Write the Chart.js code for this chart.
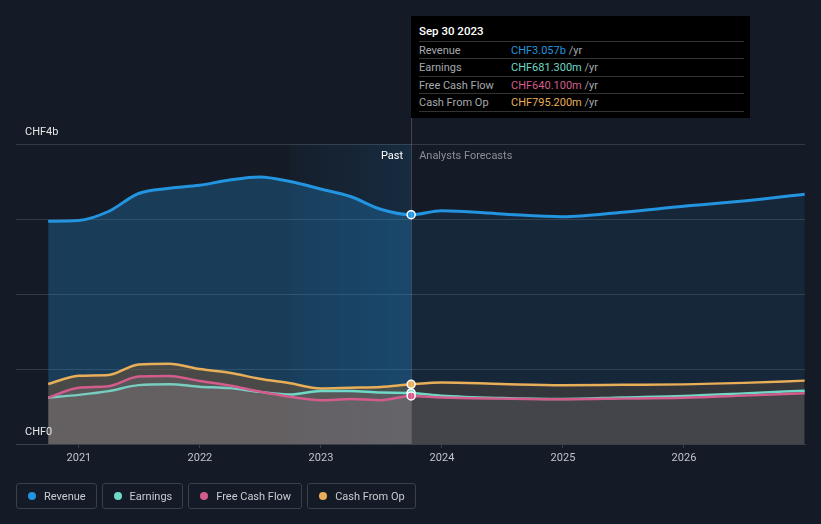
<!DOCTYPE html>
<html>
<head>
<meta charset="utf-8">
<script src="https://cdn.jsdelivr.net/npm/chart.js@4"></script>
<style>
  body { margin: 0; background: #151b26; font-family: Roboto, "Open Sans", sans-serif; }
  #wrap { position: relative; width: 821px; height: 524px; }
  #chart { position: absolute; left: 0; top: 0; }
  #tip { position: absolute; left: 411px; top: 16px; width: 339px; height: 102px; background: #000; }
  #tip .title { position: absolute; left: 8px; top: 8px; color: #fff; font-size: 11.5px; font-weight: 500; }
  #tip .row { position: absolute; left: 8px; width: 325px; height: 17px; border-top: 1px solid #333; font-size: 11px; line-height: 17px; color: #a6a9ae; }
  #tip .row span.v { position: absolute; left: 92px; }
  #tip .row span.u { color: #a6a9ae; }
  #legend { position: absolute; left: 16px; top: 483px; display: flex; gap: 5px; }
  #legend div { height: 24px; border: 1px solid #3a404a; border-radius: 3px; padding: 0 10px 0 11px; display: flex; align-items: center; color: #c8ccd2; font-size: 11px; }
  #legend i { width: 8px; height: 8px; border-radius: 50%; margin-right: 8px; display: inline-block; }
</style>
</head>
<body>
<div id="wrap">
  <canvas id="chart" width="821" height="524"></canvas>
  <div id="tip"></div>
  <div id="legend"></div>
</div>
<script>
const dates = ['2020-09-30', '2020-12-31', '2021-03-31', '2021-06-30', '2021-09-30', '2021-12-31', '2022-03-31', '2022-06-30', '2022-09-30', '2022-12-31', '2023-03-31', '2023-06-30', '2023-09-30', '2023-12-31', '2024-06-30', '2024-12-31', '2025-06-30', '2025-12-31', '2026-06-30', '2026-12-31'];
// values in CHF billions
const revenue = [2.97, 2.98, 3.10, 3.34, 3.41, 3.45, 3.52, 3.56, 3.50, 3.40, 3.30, 3.13, 3.057, 3.11, 3.067, 3.03, 3.09, 3.17, 3.24, 3.33];
const earnings = [0.617, 0.655, 0.705, 0.785, 0.796, 0.764, 0.745, 0.695, 0.66, 0.707, 0.707, 0.686, 0.6813, 0.644, 0.613, 0.60, 0.62, 0.64, 0.675, 0.711];
const freeCashFlow = [0.617, 0.75, 0.77, 0.90, 0.907, 0.84, 0.78, 0.70, 0.63, 0.583, 0.60, 0.585, 0.6401, 0.62, 0.605, 0.596, 0.605, 0.617, 0.645, 0.676];
const cashFromOp = [0.80, 0.91, 0.92, 1.06, 1.07, 1.00, 0.95, 0.87, 0.81, 0.74, 0.75, 0.76, 0.7952, 0.82, 0.80, 0.785, 0.79, 0.795, 0.815, 0.845];
const pastEnd = 12;
const xTicks = [2021, 2022, 2023, 2024, 2025, 2026];
const yTickLabels = ['CHF0', '', '', '', 'CHF4b'];
const names = ['Revenue', 'Earnings', 'Free Cash Flow', 'Cash From Op'];
const colors = ['#2394df', '#6fd8c6', '#d45c8c', '#e8ae58'];

function toYear(d) {
  const t = Date.parse(d + 'T00:00:00Z');
  const y = new Date(t).getUTCFullYear();
  const s = Date.UTC(y, 0, 1), e = Date.UTC(y + 1, 0, 1);
  return y + (t - s) / (e - s);
}
const xs = dates.map(toYear);
const pts = arr => arr.map((v, i) => ({x: xs[i], y: v}));

function series(idx, values, order, pastFill, foreFill, width) {
  return {
    label: names[idx],
    data: pts(values),
    order: order,
    borderColor: colors[idx],
    borderWidth: width,
    cubicInterpolationMode: 'monotone',
    fill: 'origin',
    backgroundColor: pastFill,
    segment: { backgroundColor: ctx => ctx.p0DataIndex >= pastEnd ? foreFill : pastFill },
    pointRadius: ctx => ctx.dataIndex === pastEnd ? 4 : 0,
    pointHoverRadius: 0,
    pointBackgroundColor: colors[idx],
    pointBorderColor: '#fff',
    pointBorderWidth: 1.5
  };
}

const pastX = xs[pastEnd];

const overlay = {
  id: 'overlay',
  beforeDatasetsDraw(chart) {
    const {ctx, chartArea: a, scales: {x}} = chart;
    const px = x.getPixelForValue(pastX);
    const bx = x.getPixelForValue(pastX - 1);
    const g = ctx.createLinearGradient(bx, 0, px, 0);
    g.addColorStop(0, 'rgba(35,148,223,0.03)');
    g.addColorStop(1, 'rgba(35,148,223,0.14)');
    ctx.save();
    ctx.fillStyle = g;
    ctx.fillRect(bx, a.top, px - bx, a.bottom - a.top);
    ctx.restore();
  },
  afterDatasetsDraw(chart) {
    const {ctx, chartArea: a, scales: {x, y}} = chart;
    const px = x.getPixelForValue(pastX);
    ctx.save();
    ctx.strokeStyle = 'rgba(255,255,255,0.18)';
    ctx.lineWidth = 1;
    ctx.beginPath();
    ctx.moveTo(Math.round(px) + 0.5, 118);
    ctx.lineTo(Math.round(px) + 0.5, a.bottom);
    ctx.stroke();
    ctx.font = '11px Roboto, sans-serif';
    ctx.textBaseline = 'middle';
    ctx.textAlign = 'right';
    ctx.fillStyle = '#ffffff';
    ctx.fillText('Past', px - 8, a.top + 12);
    ctx.textAlign = 'left';
    ctx.fillStyle = '#8a8e96';
    ctx.fillText('Analysts Forecasts', px + 8, a.top + 12);
    ctx.fillStyle = '#e6e6e6';
    yTickLabels.forEach((t, i) => {
      if (t) ctx.fillText(t, 25, y.getPixelForValue(i) - 12);
    });
    ctx.restore();
  }
};

new Chart(document.getElementById('chart'), {
  type: 'line',
  data: {
    datasets: [
      series(0, revenue, 4, 'rgba(35,148,223,0.28)', 'rgba(35,148,223,0.10)', 3),
      series(1, earnings, 2, 'rgba(170,150,165,0.16)', 'rgba(111,108,121,0.16)', 2.5),
      series(2, freeCashFlow, 1, 'rgba(170,150,165,0.16)', 'rgba(111,108,121,0.16)', 2.5),
      series(3, cashFromOp, 3, 'rgba(122,90,53,0.5)', 'rgba(79,70,60,0.5)', 2.5)
    ]
  },
  options: {
    responsive: false,
    animation: false,
    layout: { padding: { left: 16, right: 16, top: 144, bottom: 0 } },
    plugins: { legend: { display: false }, tooltip: { enabled: false } },
    scales: {
      x: {
        type: 'linear',
        min: 2020.48,
        max: 2027.0,
        afterFit: s => { s.height = 80; },
        afterBuildTicks: s => { s.ticks = xTicks.map(v => ({value: v})); },
        grid: { drawOnChartArea: false, drawTicks: true, tickLength: 4, color: '#3a404a' },
        border: { color: '#3a404a' },
        ticks: { color: '#c0c4cc', font: { size: 11, family: 'Roboto' }, padding: 4, callback: v => String(v) }
      },
      y: {
        min: 0,
        max: 4,
        afterFit: s => { s.width = 0; },
        ticks: { display: false, stepSize: 1 },
        grid: { color: '#343a45', drawTicks: false },
        border: { display: false }
      }
    }
  },
  plugins: [overlay]
});

// tooltip panel for the last reported point
const fmt = v => v >= 1 ? 'CHF' + v.toFixed(3) + 'b' : 'CHF' + (v * 1000).toFixed(3) + 'm';
const tipVals = [revenue, earnings, freeCashFlow, cashFromOp].map(a => a[pastEnd]);
const d = new Date(dates[pastEnd] + 'T00:00:00Z');
const mon = ['Jan', 'Feb', 'Mar', 'Apr', 'May', 'Jun', 'Jul', 'Aug', 'Sep', 'Oct', 'Nov', 'Dec'];
let html = '<div class="title">' + mon[d.getUTCMonth()] + ' ' + d.getUTCDate() + ' ' + d.getUTCFullYear() + '</div>';
const rowTops = [25, 42, 60, 77];
names.forEach((n, i) => {
  html += '<div class="row" style="top:' + rowTops[i] + 'px">' + n +
    '<span class="v"><span style="color:' + colors[i] + '">' + fmt(tipVals[i]) + '</span> <span class="u">/yr</span></span></div>';
});
html += '<div class="row" style="top:95px;height:0"></div>';
document.getElementById('tip').innerHTML = html;

document.getElementById('legend').innerHTML = names.map((n, i) =>
  '<div><i style="background:' + colors[i] + '"></i>' + n + '</div>').join('');
</script>
</body>
</html>
